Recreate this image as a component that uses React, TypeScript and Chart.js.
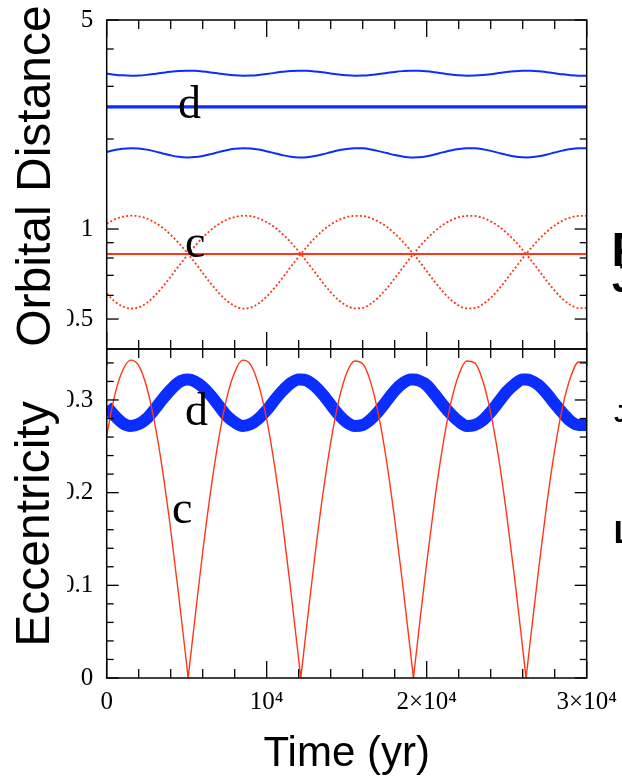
import React, { useEffect, useRef } from 'react';
import { Chart, registerables } from 'chart.js';

Chart.register(...registerables);

// ---------- data ----------
// time samples (yr) for planet d curves
const timeYr = [
  0, 500, 1000, 1500, 2000, 2500, 3000, 3500, 4000, 4500, 5000, 5090,
  5500, 6000, 6500, 7000, 7500, 8000, 8500, 9000, 9500, 10000, 10500, 11000, 11500, 12000, 12130,
  12500, 13000, 13500, 14000, 14500, 15000, 15500, 16000, 16500, 17000, 17500, 18000, 18500, 19000, 19170,
  19500, 20000, 20500, 21000, 21500, 22000, 22500, 23000, 23500, 24000, 24500, 25000, 25500, 26000, 26210,
  26500, 27000, 27500, 28000, 28500, 29000, 29500, 30000,
];

// time samples (yr) for planet c curves; denser where e_c touches zero
const timeC = [
  0, 500, 1000, 1500, 2000, 2500, 3000, 3500, 4000, 4500, 5000, 5050, 5090, 5130,
  5500, 6000, 6500, 7000, 7500, 8000, 8500, 9000, 9500, 10000, 10500, 11000, 11500, 12000, 12090, 12130, 12170,
  12500, 13000, 13500, 14000, 14500, 15000, 15500, 16000, 16500, 17000, 17500, 18000, 18500, 19000, 19130, 19170, 19210,
  19500, 20000, 20500, 21000, 21500, 22000, 22500, 23000, 23500, 24000, 24500, 25000, 25500, 26000, 26170, 26210, 26250,
  26500, 27000, 27500, 28000, 28500, 29000, 29500, 30000,
];

// eccentricity of planet c (on timeC)
const eccC = [
  0.262, 0.305, 0.332, 0.343, 0.337, 0.314, 0.275, 0.223, 0.160, 0.089, 0.014, 0.006, 0, 0.006,
  0.062, 0.136, 0.202, 0.258, 0.302, 0.330, 0.343, 0.338, 0.316, 0.279, 0.228, 0.166, 0.095, 0.020, 0.006, 0, 0.006,
  0.056, 0.130, 0.197, 0.254, 0.299, 0.329, 0.342, 0.339, 0.319, 0.283, 0.233, 0.171, 0.101, 0.026, 0.006, 0, 0.006,
  0.050, 0.124, 0.192, 0.250, 0.296, 0.327, 0.342, 0.340, 0.321, 0.286, 0.237, 0.176, 0.107, 0.032, 0.006, 0, 0.006,
  0.044, 0.118, 0.187, 0.246, 0.293, 0.325, 0.341, 0.341,
];

// orbital distance of planet c: apoapsis and periapsis (on timeC)
const distCApo = [
  1.041, 1.077, 1.099, 1.108, 1.103, 1.084, 1.052, 1.009, 0.957, 0.898, 0.837, 0.830, 0.825, 0.830,
  0.876, 0.937, 0.992, 1.038, 1.074, 1.097, 1.108, 1.104, 1.086, 1.055, 1.013, 0.962, 0.903, 0.842, 0.830, 0.825, 0.830,
  0.871, 0.932, 0.988, 1.035, 1.072, 1.096, 1.107, 1.105, 1.088, 1.058, 1.017, 0.966, 0.908, 0.846, 0.830, 0.825, 0.830,
  0.866, 0.927, 0.983, 1.031, 1.069, 1.095, 1.107, 1.106, 1.090, 1.061, 1.021, 0.970, 0.913, 0.851, 0.830, 0.825, 0.830,
  0.861, 0.922, 0.979, 1.028, 1.067, 1.093, 1.106, 1.106,
];
const distCPeri = [
  0.609, 0.573, 0.551, 0.542, 0.547, 0.566, 0.598, 0.641, 0.693, 0.752, 0.813, 0.820, 0.825, 0.820,
  0.774, 0.713, 0.658, 0.612, 0.576, 0.553, 0.542, 0.546, 0.564, 0.595, 0.637, 0.688, 0.747, 0.808, 0.820, 0.825, 0.820,
  0.779, 0.718, 0.662, 0.615, 0.578, 0.554, 0.543, 0.545, 0.562, 0.592, 0.633, 0.684, 0.742, 0.804, 0.820, 0.825, 0.820,
  0.784, 0.723, 0.667, 0.619, 0.581, 0.555, 0.543, 0.544, 0.560, 0.589, 0.629, 0.680, 0.737, 0.799, 0.820, 0.825, 0.820,
  0.789, 0.728, 0.671, 0.622, 0.583, 0.557, 0.544, 0.544,
];

// eccentricity of planet d (on timeYr)
const eccD = [
  0.293, 0.283, 0.275, 0.272, 0.274, 0.280, 0.290, 0.301, 0.311, 0.319, 0.322, 0.322,
  0.320, 0.314, 0.305, 0.294, 0.283, 0.276, 0.272, 0.274, 0.280, 0.289, 0.300, 0.310, 0.318, 0.322, 0.322,
  0.321, 0.315, 0.306, 0.295, 0.284, 0.276, 0.272, 0.273, 0.279, 0.288, 0.299, 0.310, 0.318, 0.322, 0.322,
  0.321, 0.316, 0.306, 0.295, 0.285, 0.277, 0.272, 0.273, 0.278, 0.287, 0.298, 0.309, 0.317, 0.322, 0.322,
  0.321, 0.316, 0.307, 0.296, 0.286, 0.277, 0.273, 0.273,
];

// orbital distance of planet d: apoapsis and periapsis (on timeYr)
const distDApo = [
  3.310, 3.283, 3.265, 3.256, 3.261, 3.277, 3.302, 3.330, 3.356, 3.376, 3.384, 3.384,
  3.380, 3.364, 3.340, 3.312, 3.285, 3.266, 3.257, 3.260, 3.276, 3.300, 3.328, 3.354, 3.375, 3.384, 3.384,
  3.381, 3.366, 3.342, 3.314, 3.287, 3.267, 3.257, 3.259, 3.274, 3.298, 3.325, 3.353, 3.373, 3.384, 3.384,
  3.382, 3.368, 3.344, 3.316, 3.289, 3.268, 3.257, 3.259, 3.272, 3.295, 3.323, 3.351, 3.372, 3.383, 3.384,
  3.382, 3.369, 3.346, 3.319, 3.291, 3.269, 3.258, 3.258,
];
const distDPeri = [
  1.810, 1.837, 1.856, 1.864, 1.859, 1.843, 1.818, 1.790, 1.764, 1.744, 1.736, 1.736,
  1.740, 1.756, 1.780, 1.808, 1.835, 1.854, 1.863, 1.860, 1.845, 1.820, 1.792, 1.766, 1.745, 1.736, 1.736,
  1.739, 1.754, 1.778, 1.806, 1.833, 1.853, 1.863, 1.861, 1.846, 1.822, 1.795, 1.767, 1.747, 1.736, 1.736,
  1.738, 1.752, 1.776, 1.804, 1.831, 1.852, 1.863, 1.861, 1.848, 1.825, 1.797, 1.770, 1.748, 1.737, 1.736,
  1.738, 1.751, 1.774, 1.802, 1.829, 1.851, 1.862, 1.862,
];

// semi-major axes (constant)
const meanTime = [0, 30000];
const distDMean = [2.56, 2.56];
const distCMean = [0.825, 0.825];

// axis ticks
const timeMajorTicks = [0, 10000, 20000, 30000];
const timeTickText = ['0', '10⁴', '2×10⁴', '3×10⁴'];
const timeMinorTicks = [2000, 4000, 6000, 8000, 12000, 14000, 16000, 18000, 22000, 24000, 26000, 28000];
const distMajorTicks = [0.5, 1, 5];
const distMinorTicks = [0.6, 0.7, 0.8, 0.9, 2, 3, 4];
const eccMajorTicks = [0, 0.1, 0.2, 0.3];
const eccMinorTicks = [0.02, 0.04, 0.06, 0.08, 0.12, 0.14, 0.16, 0.18, 0.22, 0.24, 0.26, 0.28, 0.32, 0.34];

// in-plot planet labels [text, time, value]
const distPlanetLabels: [string, number, number][] = [['d', 4456, 2.35], ['c', 4894, 0.806]];
const eccPlanetLabels: [string, number, number][] = [['d', 4894, 0.273], ['c', 4081, 0.167]];

// fragments of neighbouring text cut by the right edge
const edgeLetters: { text: string; left: number; baseline: number; size: number }[] = [
  { text: 'F', left: 611.5, baseline: 267, size: 48 },
  { text: 'J', left: 612, baseline: 292, size: 40 },
  { text: 'J', left: 614, baseline: 422, size: 24 },
  { text: 'L', left: 613.7, baseline: 543, size: 32 },
];

// ---------- styles ----------
const BLUE = '#0b2dff';
const RED = '#ff3618';
const SERIF = '"Liberation Serif", "DejaVu Serif", serif';
const SANS = '"Liberation Sans", Arial, sans-serif';
const TICK_FONT = { family: SERIF, size: 25 };

const pts = (xs: number[], ys: number[]) => xs.map((x, i) => ({ x, y: ys[i] }));

// draws frame, inward ticks, the y-axis title and the in-plot planet labels
function framePlugin(
  yMajor: number[],
  yMinor: number[],
  labels: [string, number, number][],
  yTitle: { text: string; baselineX: number; centerY: number }
) {
  return {
    id: 'frameTicks',
    afterDraw(chart: any) {
      const { ctx, chartArea: a, scales } = chart;
      const xs = scales.x;
      const ys = scales.y;
      ctx.save();
      // planet labels
      ctx.fillStyle = '#000';
      ctx.font = `46px ${SERIF}`;
      ctx.textAlign = 'left';
      ctx.textBaseline = 'alphabetic';
      labels.forEach(([t, x, v]) => ctx.fillText(t, xs.getPixelForValue(x), ys.getPixelForValue(v)));
      // frame
      ctx.strokeStyle = '#000';
      ctx.lineWidth = 1.5;
      ctx.strokeRect(a.left, a.top, a.right - a.left, a.bottom - a.top);
      ctx.lineWidth = 1.3;
      const seg = (x1: number, y1: number, x2: number, y2: number) => {
        ctx.beginPath();
        ctx.moveTo(x1, y1);
        ctx.lineTo(x2, y2);
        ctx.stroke();
      };
      const xt = (vals: number[], len: number) =>
        vals.forEach((v) => {
          const p = xs.getPixelForValue(v);
          seg(p, a.top, p, a.top + len);
          seg(p, a.bottom, p, a.bottom - len);
        });
      const yt = (vals: number[], len: number) =>
        vals.forEach((v) => {
          const p = ys.getPixelForValue(v);
          seg(a.left, p, a.left + len, p);
          seg(a.right, p, a.right - len, p);
        });
      xt(timeMajorTicks, 17);
      xt(timeMinorTicks, 9);
      yt(yMajor, 12);
      yt(yMinor, 7);
      // the source figure hides the leading "0" of the decimal tick labels
      ctx.fillStyle = '#fff';
      yMajor.forEach((v) => {
        const p = ys.getPixelForValue(v);
        ctx.fillRect(52, p - 14, 15, 28);
      });
      // y-axis title (rotated)
      ctx.fillStyle = '#000';
      ctx.font = `48px ${SANS}`;
      ctx.textAlign = 'center';
      ctx.textBaseline = 'alphabetic';
      ctx.translate(yTitle.baselineX, yTitle.centerY - chart.canvas.offsetTop);
      ctx.rotate(-Math.PI / 2);
      ctx.fillText(yTitle.text, 0, 0);
      ctx.restore();
    },
  };
}

function yAxisCommon() {
  return {
    grid: { display: false, drawTicks: false },
    border: { display: false },
    afterFit: (s: any) => {
      s.width = 106.7;
      s.paddingTop = 0;
      s.paddingBottom = 0;
    },
  };
}

const yTicks = { autoSkip: false, color: '#000', padding: 13.5, font: TICK_FONT };

export default function App() {
  const topRef = useRef<HTMLCanvasElement>(null);
  const botRef = useRef<HTMLCanvasElement>(null);

  useEffect(() => {
    const line = (data: any[], color: string, width: number, extra: any = {}) => ({
      data,
      borderColor: color,
      backgroundColor: color,
      borderWidth: width,
      pointRadius: 0,
      fill: false,
      clip: 0,
      tension: 0,
      ...extra,
    });
    const smooth = { cubicInterpolationMode: 'monotone' };

    const topChart = new Chart(topRef.current as HTMLCanvasElement, {
      type: 'line',
      data: {
        datasets: [
          line(pts(meanTime, distDMean), BLUE, 3.2),
          line(pts(timeYr, distDApo), BLUE, 2, smooth),
          line(pts(timeYr, distDPeri), BLUE, 2, smooth),
          line(pts(meanTime, distCMean), RED, 2),
          line(pts(timeC, distCApo), RED, 1.8, { ...smooth, borderDash: [2, 2.2] }),
          line(pts(timeC, distCPeri), RED, 1.8, { ...smooth, borderDash: [2, 2.2] }),
        ],
      },
      options: {
        responsive: false,
        maintainAspectRatio: false,
        animation: false,
        events: [],
        layout: { padding: { top: 20, right: 35.3, bottom: 3, left: 0 } },
        plugins: { legend: { display: false }, tooltip: { enabled: false } },
        scales: {
          x: {
            type: 'linear',
            min: 0,
            max: 30000,
            grid: { display: false, drawTicks: false },
            border: { display: false },
            ticks: { display: false },
            afterFit: (s: any) => {
              s.height = 0;
              s.paddingLeft = 0;
              s.paddingRight = 0;
            },
          },
          y: {
            type: 'logarithmic',
            min: 0.397,
            max: 5,
            ...yAxisCommon(),
            afterBuildTicks: (s: any) => {
              s.ticks = distMajorTicks.map((v) => ({ value: v }));
            },
            ticks: { ...yTicks, callback: (v: any) => String(v) },
          },
        },
      } as any,
      plugins: [
        framePlugin(distMajorTicks, distMinorTicks, distPlanetLabels, {
          text: 'Orbital Distance',
          baselineX: 50,
          centerY: 176,
        }),
      ],
    });

    const botChart = new Chart(botRef.current as HTMLCanvasElement, {
      type: 'line',
      data: {
        datasets: [
          line(pts(timeC, eccC), RED, 1.4, smooth),
          line(pts(timeYr, eccD), BLUE, 12, { ...smooth, borderJoinStyle: 'round' }),
        ],
      },
      options: {
        responsive: false,
        maintainAspectRatio: false,
        animation: false,
        events: [],
        layout: { padding: { top: 19, right: 35.3, bottom: 0, left: 0 } },
        plugins: { legend: { display: false }, tooltip: { enabled: false } },
        scales: {
          x: {
            type: 'linear',
            min: 0,
            max: 30000,
            grid: { display: false, drawTicks: false },
            border: { display: false },
            afterBuildTicks: (s: any) => {
              s.ticks = timeMajorTicks.map((v) => ({ value: v }));
            },
            ticks: {
              autoSkip: false,
              maxRotation: 0,
              minRotation: 0,
              color: '#000',
              padding: 9,
              font: TICK_FONT,
              callback: (v: any) => timeTickText[timeMajorTicks.indexOf(Number(v))],
            },
            title: {
              display: true,
              text: 'Time (yr)',
              color: '#000',
              font: { family: SANS, size: 42 },
              padding: { top: 0, bottom: 4 },
            },
            afterFit: (s: any) => {
              s.height = 106;
              s.paddingLeft = 0;
              s.paddingRight = 0;
            },
          },
          y: {
            type: 'linear',
            min: 0,
            max: 0.355,
            ...yAxisCommon(),
            afterBuildTicks: (s: any) => {
              s.ticks = eccMajorTicks.map((v) => ({ value: v }));
            },
            ticks: {
              ...yTicks,
              callback: (v: any) => (Number(v) === 0 ? '0' : Number(v).toFixed(1)),
            },
          },
        },
      } as any,
      plugins: [
        framePlugin(eccMajorTicks, eccMinorTicks, eccPlanetLabels, {
          text: 'Eccentricity',
          baselineX: 48.5,
          centerY: 524,
        }),
      ],
    });

    return () => {
      topChart.destroy();
      botChart.destroy();
    };
  }, []);

  return (
    <div
      style={{
        position: 'absolute',
        left: 0,
        top: 0,
        width: 622,
        height: 784,
        overflow: 'hidden',
        background: '#fff',
      }}
    >
      <canvas ref={topRef} width={622} height={352} style={{ position: 'absolute', left: 0, top: 0 }} />
      <canvas ref={botRef} width={622} height={454} style={{ position: 'absolute', left: 0, top: 330 }} />
      {edgeLetters.map((e, i) => (
        <div
          key={i}
          style={{
            position: 'absolute',
            left: e.left,
            top: e.baseline - e.size * 0.8465,
            fontFamily: SANS,
            fontWeight: 700,
            fontSize: e.size,
            lineHeight: `${e.size}px`,
            color: '#000',
            whiteSpace: 'nowrap',
          }}
        >
          {e.text}
        </div>
      ))}
    </div>
  );
}
